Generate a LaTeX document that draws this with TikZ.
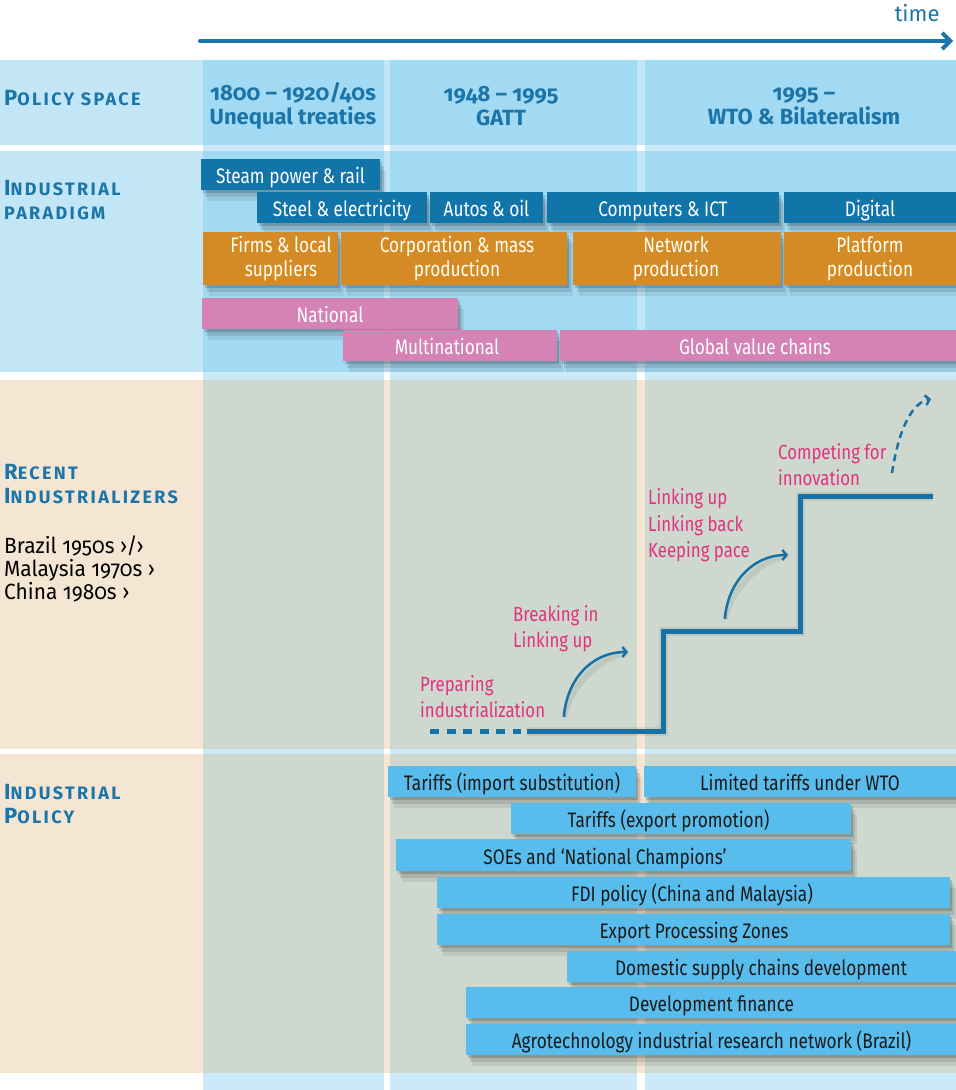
\documentclass[tikz,border=0pt]{standalone}
\usepackage{fontspec}
\setmainfont{Fira Sans}[Numbers=OldStyle]
\newfontfamily\cond{Fira Sans}[FakeStretch=0.82,Numbers=OldStyle]
\newfontfamily\blkf{Fira Sans}[FakeStretch=0.95,Numbers=OldStyle]
\usetikzlibrary{arrows.meta,shadows}
\definecolor{rowblue}{HTML}{C3E6F7}
\definecolor{colblue}{HTML}{A3DAF3}
\definecolor{colwhite}{HTML}{CBE9F6}
\definecolor{beige}{HTML}{F5E6D4}
\definecolor{colbeige}{HTML}{CED8CE}
\definecolor{hdblue}{HTML}{1B75A9}
\definecolor{barblue}{HTML}{1275A9}
\definecolor{barorange}{HTML}{D48B26}
\definecolor{barpink}{HTML}{D483B4}
\definecolor{barlight}{HTML}{58BDEC}
\definecolor{stepblue}{HTML}{1672A6}
\definecolor{pinktext}{HTML}{E2327F}
\definecolor{ink}{HTML}{1A1A1A}
\newcommand\scp[2]{{\fontsize{22}{24}\selectfont #1}{\fontsize{18}{24}\selectfont\addfontfeature{LetterSpace=13}#2}}
\newcommand\mkbar[8]{%
  \node[#1, minimum width={#5pt-#3pt}, minimum height={#6pt-#4pt}] (#2) at ({(#3+#5)/2},{(#4+#6)/2}) {};
  \node[#1 text] (#2t) at (#7,{(#4+#6)/2}) {#8};}
\tikzset{
  shd/.style={drop shadow={shadow xshift=2pt,shadow yshift=-3pt,opacity=0.16,fill=black},
              drop shadow={shadow xshift=4pt,shadow yshift=-7pt,opacity=0.11,fill=black},
              drop shadow={shadow xshift=6pt,shadow yshift=-11pt,opacity=0.07,fill=black}},
  barbase/.style={rectangle, inner sep=0pt, shd},
  darkbar/.style={barbase, fill=barblue},
  orangebar/.style={barbase, fill=barorange},
  pinkbar/.style={barbase, fill=barpink},
  lightbar/.style={barbase, fill=barlight},
  bartxt/.style={inner sep=0pt, align=center, font=\cond\fontsize{21}{24}\selectfont},
  onel/.style={bartxt, text height=18pt, text depth=0pt},
  darkbar text/.style={onel, text=white},
  orangebar text/.style={bartxt, text=white!95!yellow},
  pinkbar text/.style={onel, text=white},
  lightbar text/.style={onel, text=ink},
  hdr/.style={inner sep=0pt, align=center, text=hdblue, font=\bfseries\fontsize{22}{24}\selectfont},
  lbl/.style={inner sep=0pt, anchor=west, align=left, text=hdblue, font=\bfseries\fontsize{22}{24}\selectfont},
  pinklab/.style={inner sep=0pt, anchor=west, align=left, text=pinktext, font=\cond\fontsize{20.5}{26.5}\selectfont},
  stair/.style={draw=stepblue, line width=5pt},
  stairshd/.style={draw=black, opacity=0.07, line width=9pt, shift={(4,7)}},
  curvy/.style={draw=stepblue, line width=2.5pt, -{Straight Barb[length=4pt,width=10pt]}},
}
\begin{document}
\begin{tikzpicture}[x=1pt,y=-1pt]
\useasboundingbox (0,0) rectangle (956,1090);
% column backgrounds over white
\foreach \xa/\xb in {203/384,390/637,645/956}
  \fill[colwhite] (\xa,60) rectangle (\xb,1090);
% rows
\foreach \ya/\yb/\bg/\cl in {60/145/rowblue/colblue, 151/372/rowblue/colblue, 380/749/beige/colbeige, 754/1073/beige/colbeige}{
  \fill[\bg] (0,\ya) rectangle (956,\yb);
  \foreach \xa/\xb in {203/384,390/637,645/956}
    \fill[\cl] (\xa,\ya) rectangle (\xb,\yb);
}
% time arrow
\coordinate (ta) at (200,41);
\coordinate (tb) at (953,41);
\draw[hdblue, line width=4pt, line cap=round, -{Straight Barb[length=8pt,width=16pt]}] (ta) -- (tb);
\node[inner sep=0pt, text=hdblue, font=\fontsize{22}{24}\selectfont] (time) at (917,13) {time};
% headers
\node[hdr] (h1) at (293,106) {1800 – 1920/40s\\Unequal treaties};
\node[hdr] (h2) at (501,106) {1948 – 1995\\GATT};
\node[hdr] (h3) at (804,106) {1995 –\\WTO \& Bilateralism};
% left labels
\node[lbl] (lps) at (4,98) {\scp{P}{OLICY SPACE}};
\node[lbl] (lip) at (4,200) {\scp{I}{NDUSTRIAL}\\\scp{}{PARADIGM}};
\node[lbl] (lri) at (4,484) {\scp{R}{ECENT}\\\scp{I}{NDUSTRIALIZERS}};
\node[lbl] (lpol) at (4,804.5) {\scp{I}{NDUSTRIAL}\\\scp{P}{OLICY}};
\node[inner sep=0pt, anchor=west, align=left, text=black, font=\blkf\fontsize{22}{23}\selectfont] (cty) at (4,569)
  {Brazil 1950s ›/›\\Malaysia 1970s ›\\China 1980s ›};
% industrial paradigm bars
\mkbar{darkbar}{steam}{201}{159}{380}{190}{290.5}{Steam power \& rail}
\mkbar{darkbar}{steel}{257}{192}{427}{223}{342}{Steel \& electricity}
\mkbar{darkbar}{autos}{430}{192}{543}{223}{486.5}{Autos \& oil}
\mkbar{darkbar}{comp}{547}{192}{779}{223}{663}{Computers \& ICT}
\mkbar{darkbar}{digi}{784}{192}{956}{223}{870}{Digital}
\mkbar{orangebar}{firms}{203}{232}{338}{285}{281}{Firms \& local\\suppliers}
\mkbar{orangebar}{corp}{341}{232}{567}{285}{457}{Corporation \& mass\\production}
\mkbar{orangebar}{netw}{573}{232}{781}{285}{676}{Network\\production}
\mkbar{orangebar}{plat}{784}{232}{956}{285}{870}{Platform\\production}
\mkbar{pinkbar}{natl}{202}{298}{458}{329}{330}{National}
\mkbar{pinkbar}{multi}{343}{330}{557}{361}{447}{Multinational}
\mkbar{pinkbar}{gvc}{560}{330}{956}{361}{755}{Global value chains}
% staircase
\coordinate (s0) at (430,731);
\coordinate (s1) at (521,731);
\coordinate (s2) at (527,731);
\coordinate (s3) at (663,731);
\coordinate (s4) at (663,631);
\coordinate (s5) at (800,631);
\coordinate (s6) at (800,496);
\coordinate (s7) at (933,496);
\coordinate (a1s) at (564,717); \coordinate (a1e) at (628,652);
\coordinate (a2s) at (725,619); \coordinate (a2e) at (788,555);
\coordinate (a3s) at (892,473); \coordinate (a3e) at (931,399);
% soft shadows
\draw[stairshd, line join=miter] (s2) -- (s3) -- (s4) -- (s5) -- (s6) -- (s7);
\draw[stairshd, line width=6pt] (a1s) .. controls (566,682) and (590,652) .. (a1e);
\draw[stairshd, line width=6pt] (a2s) .. controls (727,584) and (752,555) .. (a2e);
\draw[stair, dash pattern=on 9pt off 7.5pt] (s0) -- (s1);
\draw[stair, line join=miter] (s2) -- (s3) -- (s4) -- (s5) -- (s6) -- (s7);
% curved arrows
\draw[curvy] (a1s) .. controls (566,682) and (590,652) .. (a1e);
\draw[curvy] (a2s) .. controls (727,584) and (752,555) .. (a2e);
\draw[curvy, dash pattern=on 7pt off 5pt] (a3s) .. controls (897,440) and (908,404) .. (a3e);
% pink labels
\node[pinklab] (p1) at (420,696.5) {Preparing\\industrialization};
\node[pinklab] (p2) at (513,628.5) {Breaking in\\Linking up};
\node[pinklab] (p3) at (648,525.5) {Linking up\\Linking back\\Keeping pace};
\node[pinklab] (p4) at (778,464.5) {Competing for\\innovation};
% industrial policy bars
\mkbar{lightbar}{timp}{388}{766}{636}{797}{512}{Tariffs (import substitution)}
\mkbar{lightbar}{twto}{644}{766}{956}{797}{800}{Limited tariffs under WTO}
\mkbar{lightbar}{texp}{511}{803}{851}{834}{668.5}{Tariffs (export promotion)}
\mkbar{lightbar}{soe}{396}{839}{851}{871}{605}{SOEs and ‘National Champions’}
\mkbar{lightbar}{fdi}{437}{877}{950}{908}{692}{FDI policy (China and Malaysia)}
\mkbar{lightbar}{epz}{437}{914}{950}{945}{694}{Export Processing Zones}
\mkbar{lightbar}{dsc}{567}{951}{956}{982}{761}{Domestic supply chains development}
\mkbar{lightbar}{dfin}{466}{987}{956}{1018}{711.5}{Development finance}
\mkbar{lightbar}{agro}{466}{1024}{956}{1055}{711.5}{Agrotechnology industrial research network (Brazil)}
\end{tikzpicture}
\end{document}
